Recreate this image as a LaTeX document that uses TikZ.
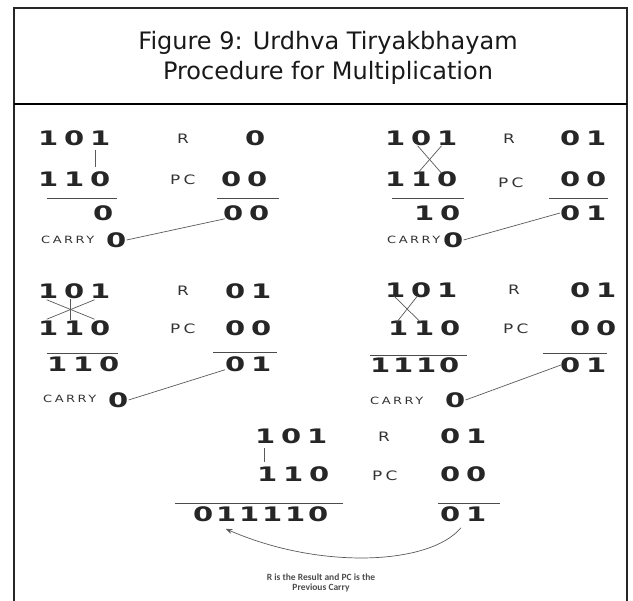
\documentclass[tikz,border=0pt]{standalone}
\usepackage{fontspec}
\setmainfont{DejaVu Sans}
\newfontfamily\digitfont[FakeStretch=1.45, LetterSpace=29]{DejaVu Sans Bold}
\newfontfamily\resfont[FakeStretch=1.45, LetterSpace=14]{DejaVu Sans Bold}
\newfontfamily\tagfont[FakeStretch=1.3, LetterSpace=25]{DejaVu Sans}
\newfontfamily\notefont{Carlito}
\usepackage{tikz}
\usetikzlibrary{arrows.meta,positioning,calc}

\begin{document}
\begin{tikzpicture}[x=1pt, y=-1pt,
  num/.style={anchor=west, inner sep=0pt, text=black!85, font=\digitfont\fontsize{20}{20}\selectfont},
  resnum/.style={num, font=\resfont\fontsize{20}{20}\selectfont},
  tag/.style={anchor=west, inner sep=0pt, text=black!80, font=\tagfont\fontsize{13}{13}\selectfont},
  carrytag/.style={anchor=west, inner sep=0pt, text=black!80, font=\tagfont\fontsize{10}{10}\selectfont},
  rule/.style={draw=black!70, line width=0.9pt},
  link/.style={draw=black!65, line width=0.7pt},
  title/.style={anchor=base, text=black!90, font=\fontsize{24}{24}\selectfont}
]
\useasboundingbox (0,0) rectangle (633,601);

% frame and heading
\draw[line width=1.3pt, black!85] (14,601) -- (14,8) -- (627,8) -- (627,601);
\draw[line width=2pt] (14,104) -- (627,104);
\node[title] (head1) at (328,50) {Figure 9: Urdhva Tiryakbhayam};
\node[title] (head2) at (328,80) {Procedure for Multiplication};

% step 1 (top left)
\node[num] (s1a) at (38,138) {101};
\node[num] (s1b) at (38,179) {110};
\node[tag] (s1r) at (177,139) {R};
\node[tag] (s1pc) at (170,180) {PC};
\node[num] (s1rv) at (245,138) {0};
\node[num] (s1pv) at (221,179) {00};
\node[num] (s1res) at (93,213) {0};
\node[num] (s1out) at (223,213) {00};
\node[carrytag] (s1ct) at (41,240) {CARRY};
\node[num] (s1c) at (106,240) {0};
\coordinate (t1) at ($(s1a.south west)!0.79!(s1a.south east)+(0,4)$);
\draw[link] (t1) -- ($(t1 |- s1b.north)+(0,-4)$);
\draw[rule] (47,198) -- (117,198);
\draw[rule] (217,198) -- (279,198);
\draw[link] (s1c.east) -- ($(s1out.south west)+(2,-2)$);

% step 2 (top right)
\node[num] (s2a) at (385,138) {101};
\node[num] (s2b) at (385,179) {110};
\node[tag] (s2r) at (503,139) {R};
\node[tag] (s2pc) at (498,183) {PC};
\node[num] (s2rv) at (560,138) {01};
\node[num] (s2pv) at (560,179) {00};
\node[num] (s2res) at (414,213) {10};
\node[num] (s2out) at (560,213) {01};
\node[carrytag] (s2ct) at (387,240) {CARRY};
\node[num] (s2c) at (443,240) {0};
\draw[link] ($(s2a.south west)!0.45!(s2a.south east)$) -- ($(s2b.north west)!0.78!(s2b.north east)+(0,2)$);
\draw[link] ($(s2a.south west)!0.78!(s2a.south east)$) -- ($(s2b.north west)!0.45!(s2b.north east)+(0,2)$);
\draw[rule] (392,198) -- (464,198);
\draw[rule] (549,198) -- (608,198);
\draw[link] (s2c.east) -- (s2out.west);

% step 3 (middle left)
\node[num] (s3a) at (38,291) {101};
\node[num] (s3b) at (38,328) {110};
\node[tag] (s3r) at (177,291) {R};
\node[tag] (s3pc) at (170,329) {PC};
\node[num] (s3rv) at (225,291) {01};
\node[num] (s3pv) at (225,328) {00};
\node[num] (s3res) at (47,364) {110};
\node[num] (s3out) at (225,364) {01};
\node[carrytag] (s3ct) at (43,399) {CARRY};
\node[num] (s3c) at (108,400) {0};
\draw[link] ($(s3a.south west)!0.12!(s3a.south east)+(0,1)$) -- ($(s3b.north west)!0.78!(s3b.north east)+(0,-1)$);
\draw[link] ($(s3a.south west)!0.78!(s3a.south east)+(0,1)$) -- ($(s3b.north west)!0.12!(s3b.north east)+(0,-1)$);
\coordinate (t3) at ($(s3a.south west)!0.45!(s3a.south east)$);
\draw[link] (t3) -- (t3 |- s3b.north);
\draw[rule] (47,353) -- (118,353);
\draw[rule] (213,352) -- (277,352);
\draw[link] (s3c.east) -- ($(s3out.south west)+(0,-2)$);

% step 4 (middle right)
\node[num] (s4a) at (385,290) {101};
\node[num] (s4b) at (388,328) {110};
\node[tag] (s4r) at (508,290) {R};
\node[tag] (s4pc) at (503,329) {PC};
\node[num] (s4rv) at (570,290) {01};
\node[num] (s4pv) at (570,328) {00};
\node[resnum] (s4res) at (370,365) {1110};
\node[num] (s4out) at (560,365) {01};
\node[carrytag] (s4ct) at (370,401) {CARRY};
\node[num] (s4c) at (445,400) {0};
\draw[link] ($(s4a.south west)!0.12!(s4a.south east)+(0,-2)$) -- ($(s4b.north west)!0.45!(s4b.north east)+(0,2)$);
\draw[link] ($(s4a.south west)!0.45!(s4a.south east)+(0,-2)$) -- ($(s4b.north west)!0.12!(s4b.north east)+(0,2)$);
\draw[rule] (370,355) -- (467,355);
\draw[rule] (543,353) -- (607,353);
\draw[link] (s4c.east) -- ($(s4out.west)+(1,0)$);

% step 5 (bottom)
\node[num] (s5a) at (255,436) {101};
\node[num] (s5b) at (257,474) {110};
\node[tag] (s5r) at (378,437) {R};
\node[tag] (s5pc) at (372,476) {PC};
\node[num] (s5rv) at (440,436) {01};
\node[num] (s5pv) at (440,474) {00};
\node[resnum] (s5res) at (193,514) {011110};
\node[num] (s5out) at (440,514) {01};
\coordinate (t5) at ($(s5a.south west)!0.13!(s5a.south east)+(0,4)$);
\draw[link] (t5) -- ($(t5 |- s5b.north)+(0,-4)$);
\draw[rule] (175,503) -- (343,503);
\draw[rule] (438,503) -- (500,503);
\draw[link, -{Stealth[length=7pt, width=5pt]}] ($(s5out.south west)!0.45!(s5out.south east)+(0,6)$)
  .. controls (430,565) and (320,570) .. ($(s5res.south west)!0.24!(s5res.south east)+(0,7)$);
\node[align=center, text=black!70, font=\notefont\bfseries\fontsize{9.5}{10.5}\selectfont] (note) at (321,583)
  {R is the Result and PC is the\\Previous Carry};
\end{tikzpicture}
\end{document}
